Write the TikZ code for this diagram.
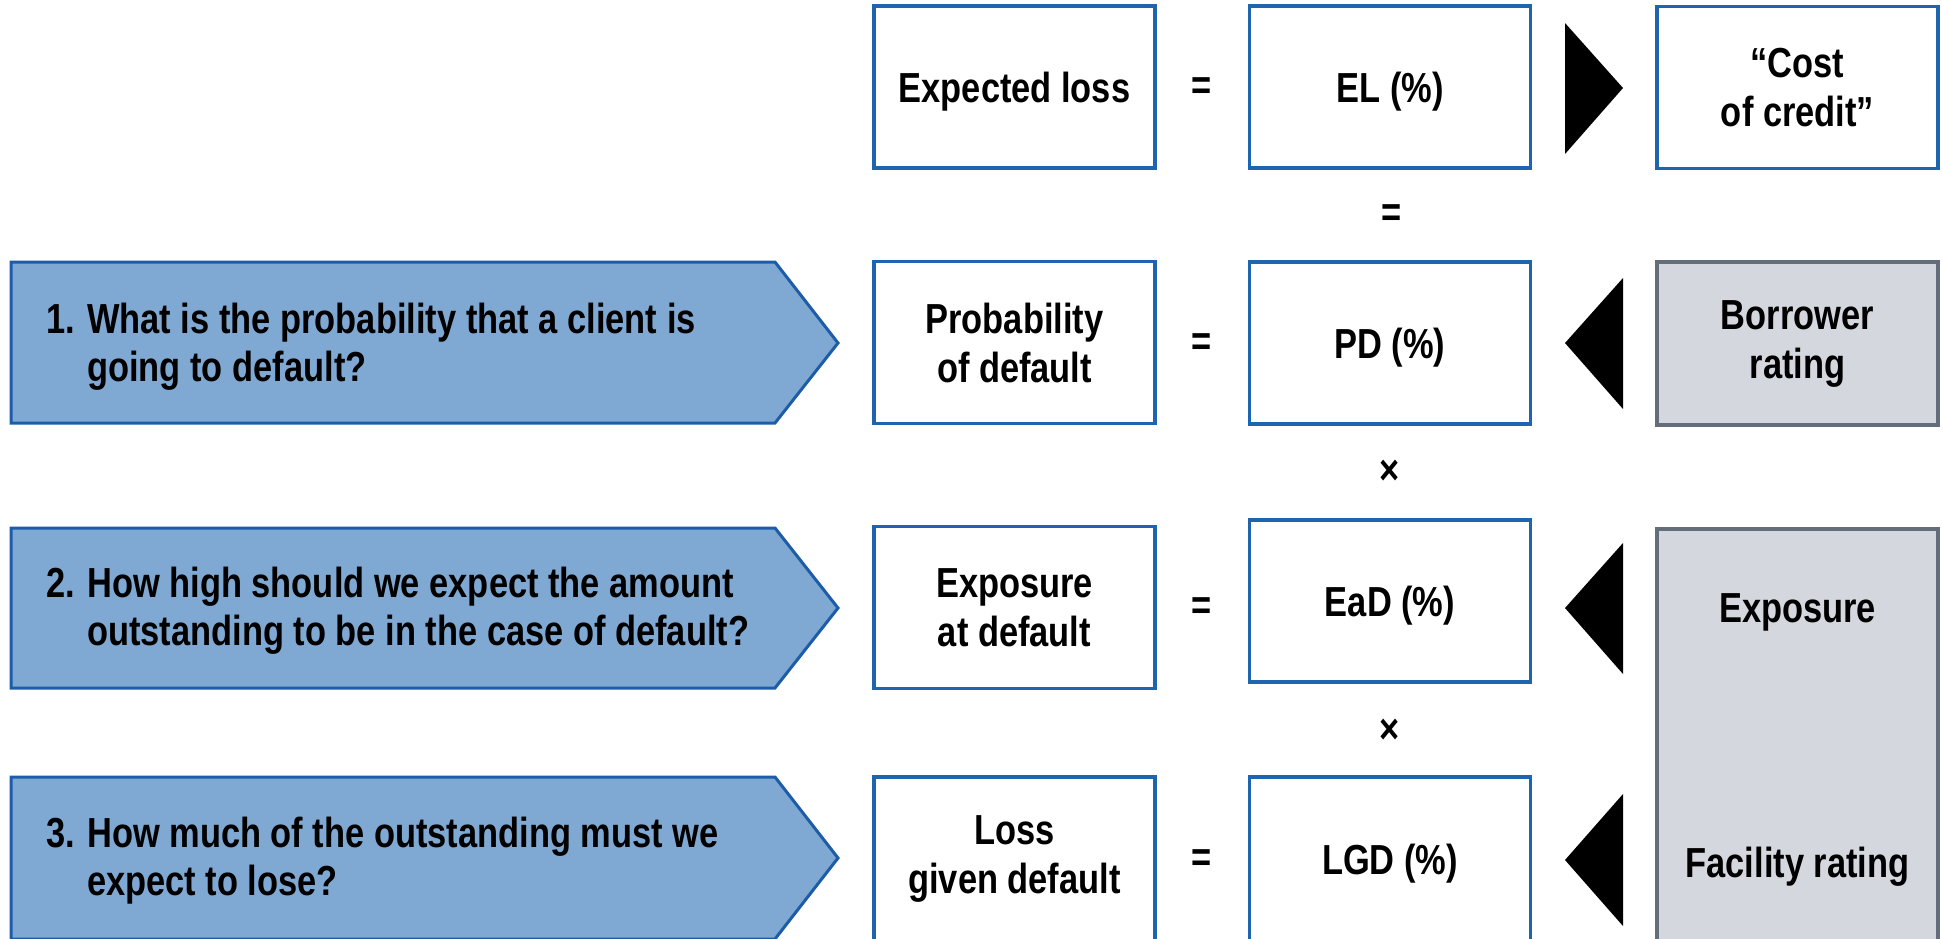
\documentclass[tikz,border=0pt]{standalone}
\usepackage{fontspec}
\setmainfont{Liberation Sans}[FakeStretch=0.82]
\newcommand\qnum[1]{\makebox[41pt][l]{#1}}
\definecolor{boxblue}{RGB}{30,100,175}
\definecolor{pentfill}{RGB}{127,169,210}
\definecolor{pentline}{RGB}{28,92,168}
\definecolor{grayfill}{RGB}{212,215,221}
\definecolor{grayline}{RGB}{100,110,122}
\tikzset{
  txt/.style={font=\fontsize{42}{49}\selectfont\bfseries, align=center, inner sep=0pt},
  one/.style={text height=30pt, text depth=0pt},
  wbox/.style={txt, draw=boxblue, line width=3.5pt, fill=white, minimum width=281pt, minimum height=162pt},
  gbox/.style={txt, draw=grayline, line width=3.5pt, fill=grayfill, minimum width=281pt, minimum height=163pt},
  pent/.style={draw=pentline, line width=3pt, fill=pentfill, line join=miter},
  qtxt/.style={font=\fontsize{42}{48}\selectfont\bfseries, align=left, anchor=west, inner sep=0pt},
  optxt/.style={font=\fontsize{42}{48}\selectfont\bfseries, inner sep=0pt},
  tri/.style={fill=black}
}
\begin{document}
\begin{tikzpicture}[x=1pt,y=-1pt]
\useasboundingbox (0,0) rectangle (1943,938);
\clip (0,0) rectangle (1943,938);

% pentagons (questions)
\draw[pent] (11,262) -- (775,262) -- (838,343) -- (775,423) -- (11,423) -- cycle;
\draw[pent] (11,528) -- (775,528) -- (838,608) -- (775,688) -- (11,688) -- cycle;
\draw[pent] (11,777) -- (775,777) -- (838,858) -- (775,939) -- (11,939) -- cycle;
\node[qtxt] (q1) at (46,347) {\qnum{1.}What is the probability that a client is\\\qnum{}going to default?};
\node[qtxt] (q2) at (46,611) {\qnum{2.}How high should we expect the amount\\\qnum{}outstanding to be in the case of default?};
\node[qtxt] (q3) at (46,861) {\qnum{3.}How much of the outstanding must we\\\qnum{}expect to lose?};

% label boxes
\node[wbox, one] (el)  at (1014.5,87)   {Expected loss};
\node[wbox] (pd)  at (1014.5,342.5) {Probability\\of default};
\node[wbox] (ead) at (1014.5,607.5) {Exposure\\at default};
\node[wbox, minimum height=164pt] (lgd) at (1014.5,859) {Loss\\given default};

% value boxes
\node[wbox, one] (elv)  at (1390,87)    {EL (\%)};
\node[wbox, one] (pdv)  at (1390,343)   {PD (\%)};
\node[wbox, one] (eadv) at (1390,601)   {EaD (\%)};
\node[wbox, one, minimum height=164pt] (lgdv) at (1390,859) {LGD (\%)};

% operators
\node[optxt] (eq1) at (1202,89)  {=};
\node[optxt] (eq2) at (1202,345) {=};
\node[optxt] (eq3) at (1202,609) {=};
\node[optxt] (eq4) at (1202,861) {=};
\node[optxt] (eqv) at (1392,216) {=};
\node[optxt] (x1)  at (1390,472) {×};
\node[optxt] (x2)  at (1390,731) {×};

% right column
\node[wbox] (cost) at (1797.5,87.5) {“Cost\\of credit”};
\node[gbox] (brw)  at (1797.5,343.5) {Borrower\\rating};
\node[gbox, minimum height=426pt, anchor=north] (fac) at (1797.5,527) {};
\node[txt, one] (expo) at (1797.5,607) {Exposure};
\node[txt, one] (facr) at (1797.5,862) {Facility rating};

% triangles
\fill[tri] (1565,23) -- (1623,88) -- (1565,154) -- cycle;
\fill[tri] (1623,278) -- (1565,343) -- (1623,409) -- cycle;
\fill[tri] (1623,543) -- (1565,608) -- (1623,674) -- cycle;
\fill[tri] (1623,794) -- (1565,860) -- (1623,926) -- cycle;
\end{tikzpicture}
\end{document}
